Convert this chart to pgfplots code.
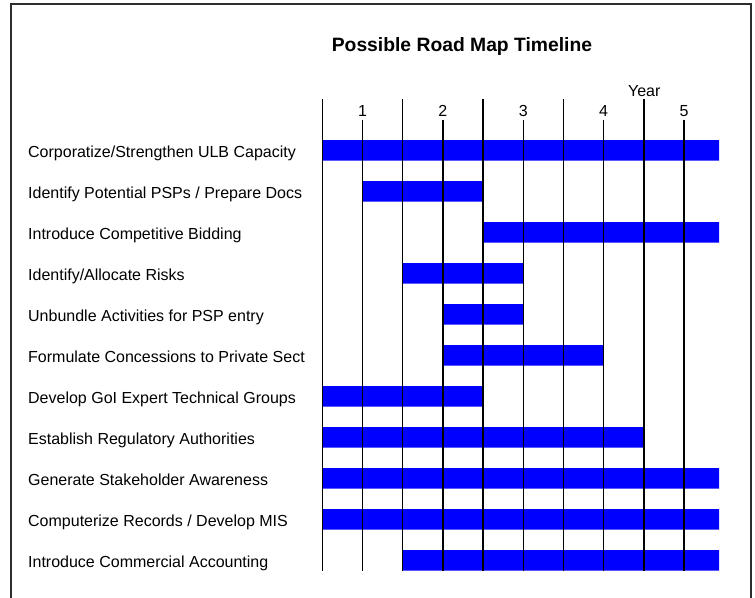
\documentclass[border=0pt]{standalone}
\usepackage{pgfplots}
\pgfplotsset{compat=1.18}
\usepackage{fontspec}
\setmainfont{Liberation Sans}
\definecolor{barblue}{RGB}{0,0,255}
\definecolor{framegray}{RGB}{45,45,45}
\begin{document}
\begin{tikzpicture}
\begin{axis}[
  scale only axis,
  width=396.8bp, height=471.5bp,
  xmin=0, xmax=9.87,
  ymin=-1.25, ymax=10.25,
  y dir=reverse,
  clip=false,
  axis line style={draw=none},
  major tick style={draw=none},
  xtick=\empty,
  ytick={0,...,10},
  yticklabels={Corporatize/Strengthen ULB Capacity,Identify Potential PSPs / Prepare Docs,Introduce Competitive Bidding,Identify/Allocate Risks,Unbundle Activities for PSP entry,Formulate Concessions to Private Sect,Develop GoI Expert Technical Groups,Establish Regulatory Authorities,Generate Stakeholder Awareness,Computerize Records / Develop MIS,Introduce Commercial Accounting},
  yticklabel style={anchor=base west, inner sep=0pt, xshift=-294.3bp, yshift=-7.2bp, font=\fontsize{16bp}{19bp}\selectfont},
  xbar stacked,
  reverse stacked plots=false,
  bar width=0.5,
]
% start offsets (invisible), in half-year units
\addplot[draw=none, fill=none] coordinates {(0,0) (1,1) (4,2) (2,3) (3,4) (3,5) (0,6) (0,7) (0,8) (0,9) (2,10)};
% durations
\addplot[draw=none, fill=barblue] coordinates {(9.87,0) (3,1) (5.87,2) (3,3) (2,4) (4,5) (4,6) (8,7) (9.87,8) (9.87,9) (7.87,10)};
% grid lines (half-year), drawn above the bars
\draw[black, line width=1.3bp] (axis cs:0,-1.25) -- (axis cs:0,10.25);
\draw[black, line width=1.3bp] (axis cs:1,-0.74) -- (axis cs:1,10.25);
\draw[black, line width=1.3bp] (axis cs:2,-1.25) -- (axis cs:2,10.25);
\draw[black, line width=1.3bp] (axis cs:3,-0.74) -- (axis cs:3,10.25);
\draw[black, line width=1.3bp] (axis cs:4,-1.25) -- (axis cs:4,10.25);
\draw[black, line width=1.3bp] (axis cs:5,-0.74) -- (axis cs:5,10.25);
\draw[black, line width=1.3bp] (axis cs:6,-1.25) -- (axis cs:6,10.25);
\draw[black, line width=1.3bp] (axis cs:7,-0.74) -- (axis cs:7,10.25);
\draw[black, line width=1.3bp] (axis cs:8,-1.25) -- (axis cs:8,10.25);
\draw[black, line width=1.3bp] (axis cs:9,-0.74) -- (axis cs:9,10.25);
% year labels
\node[anchor=base, inner sep=0pt, font=\fontsize{16bp}{19bp}\selectfont] at (axis cs:1,-0.82) {1};
\node[anchor=base, inner sep=0pt, font=\fontsize{16bp}{19bp}\selectfont] at (axis cs:3,-0.82) {2};
\node[anchor=base, inner sep=0pt, font=\fontsize{16bp}{19bp}\selectfont] at (axis cs:5,-0.82) {3};
\node[anchor=base, inner sep=0pt, font=\fontsize{16bp}{19bp}\selectfont] at (axis cs:7,-0.82) {4};
\node[anchor=base, inner sep=0pt, font=\fontsize{16bp}{19bp}\selectfont] at (axis cs:9,-0.82) {5};
\node[anchor=base, inner sep=0pt, font=\fontsize{16bp}{19bp}\selectfont] at (axis cs:8.01,-1.32) {Year};
% title
\node[anchor=base, inner sep=0pt, font=\bfseries\fontsize{19.3bp}{23bp}\selectfont] at (axis cs:3.475,-2.40) {Possible Road Map Timeline};
% frame
\draw[framegray, line width=2bp] (axis cs:-7.744,10.92) -- (axis cs:-7.744,-3.568) -- (axis cs:10.664,-3.568) -- (axis cs:10.664,10.92);
\coordinate (bbA) at (axis cs:-8.017,-3.666);
\coordinate (bbB) at (axis cs:10.764,10.920);
\end{axis}
\pgfresetboundingbox
\useasboundingbox (bbA) rectangle (bbB);
\end{tikzpicture}
\end{document}
